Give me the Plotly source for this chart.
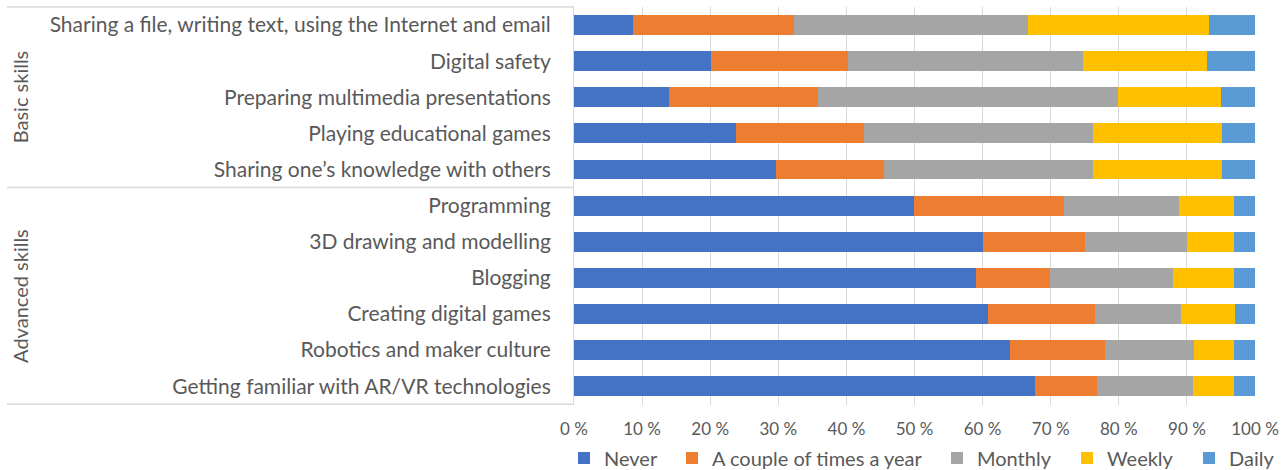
import plotly.graph_objects as go

categories = [
    "Sharing a file, writing text, using the Internet and email",
    "Digital safety",
    "Preparing multimedia presentations",
    "Playing educational games",
    "Sharing one\u2019s knowledge with others",
    "Programming",
    "3D drawing and modelling",
    "Blogging",
    "Creating digital games",
    "Robotics and maker culture",
    "Getting familiar with AR/VR technologies",
]

never = [8.7, 20.1, 13.9, 23.8, 29.7, 49.9, 60.0, 59.0, 60.8, 64.0, 67.7]
couple = [23.6, 20.2, 22.0, 18.8, 15.8, 22.1, 15.0, 10.9, 15.7, 14.0, 9.1]
monthly = [34.3, 34.4, 44.0, 33.6, 30.7, 16.9, 15.0, 18.0, 12.7, 13.0, 14.1]
weekly = [26.6, 18.3, 15.1, 18.9, 18.9, 8.0, 6.9, 9.0, 7.8, 5.9, 6.0]
daily = [6.8, 7.0, 5.0, 4.9, 4.9, 3.1, 3.1, 3.1, 3.0, 3.1, 3.1]

series_names = ["Never", "A couple of times a year", "Monthly", "Weekly", "Daily"]
series_values = [never, couple, monthly, weekly, daily]
series_colors = ["#4472C4", "#ED7D31", "#A5A5A5", "#FFC000", "#5B9BD5"]

groups = ["Basic skills", "Advanced skills"]
group_sizes = [5, 6]

FONT = "Lato"
GRAY = "#595959"

L, R, T, B = 574, 33, 7, 65
W, H = 1288, 470
pw = W - L - R
ph = H - T - B

# left pixel of each legend entry
legend_px = [564, 672, 937, 1067, 1189]

fig = go.Figure()
layout_legends = {}
for i, (name, vals, col) in enumerate(zip(series_names, series_values, series_colors)):
    lname = "legend" if i == 0 else f"legend{i + 1}"
    fig.add_trace(go.Bar(
        y=categories, x=vals, name=name, orientation="h",
        marker=dict(color=col, line=dict(width=0)),
        legend=lname, showlegend=True,
    ))
    layout_legends[lname] = dict(
        orientation="h", x=(legend_px[i] - L) / pw, xanchor="left",
        y=(405 - 458) / ph, yanchor="middle",
        font=dict(size=20, color=GRAY), itemwidth=30,
        bgcolor="rgba(0,0,0,0)", visible=True,
    )

fig.update_layout(
    width=W, height=H,
    showlegend=True,
    margin=dict(l=L, r=R, t=T, b=B, autoexpand=False),
    barmode="stack", bargap=0.45,
    plot_bgcolor="white", paper_bgcolor="white",
    font=dict(family=FONT, size=20, color=GRAY),
    xaxis=dict(range=[0, 100], dtick=10, ticksuffix=" %", showgrid=True,
               gridcolor="#D9D9D9", gridwidth=1, zeroline=False,
               tickfont=dict(size=17, color=GRAY), showline=False, fixedrange=True,
               ticklabelstandoff=12),
    yaxis=dict(autorange="reversed", showgrid=False, showline=True, linecolor="#D9D9D9",
               ticks="", ticklabelstandoff=18, tickfont=dict(size=21, color=GRAY)),
    **layout_legends,
)

# group separators and labels
x_left = (7 - L) / pw
fig.add_shape(type="line", xref="paper", yref="paper", x0=x_left, x1=0, y0=1, y1=1,
              line=dict(color="#D9D9D9", width=1.5))
start = -0.5
for g, n in zip(groups, group_sizes):
    end = start + n
    fig.add_shape(type="line", xref="paper", yref="y", x0=x_left, x1=0, y0=end, y1=end,
                  line=dict(color="#D9D9D9", width=1.5))
    fig.add_annotation(text=g, xref="paper", yref="y", x=(20 - L) / pw, y=(start + end) / 2,
                       xanchor="center", yanchor="middle",
                       textangle=-90, showarrow=False, font=dict(size=20, color=GRAY))
    start = end

fig.write_html("out.html")
